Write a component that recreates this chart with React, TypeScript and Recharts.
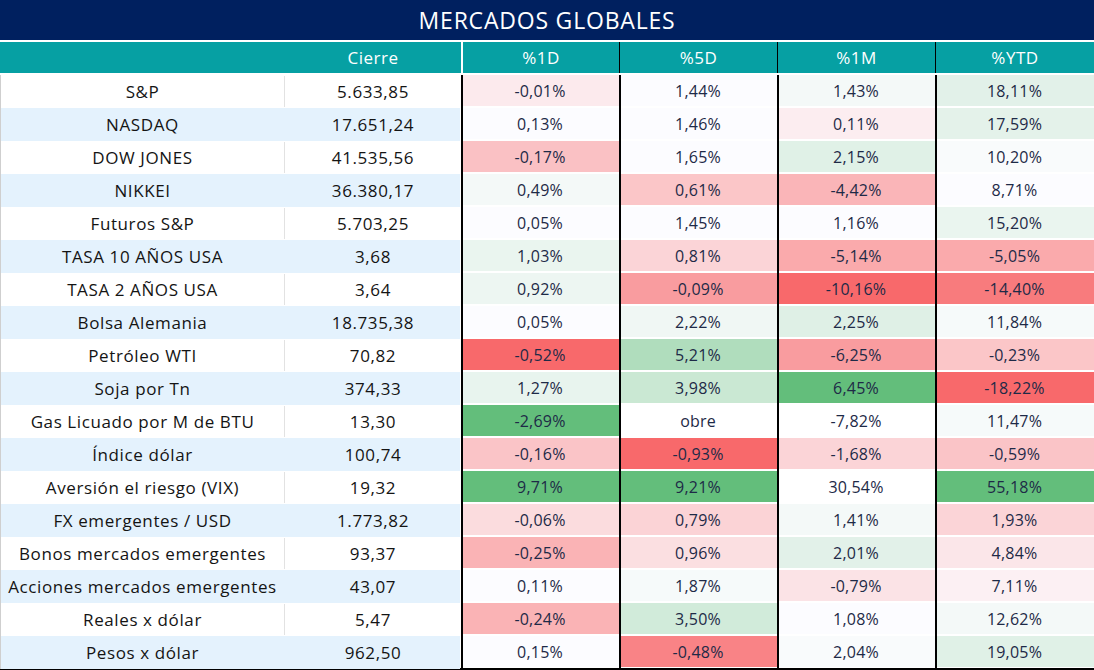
import { Bar, BarChart, XAxis, YAxis } from 'recharts'

const TITLE = 'MERCADOS GLOBALES'
const HEADERS = ['', 'Cierre', '%1D', '%5D', '%1M', '%YTD']

const NAMES = [
  'S&P', 'NASDAQ', 'DOW JONES', 'NIKKEI', 'Futuros S&P', 'TASA 10 AÑOS USA', 'TASA 2 AÑOS USA',
  'Bolsa Alemania', 'Petróleo WTI', 'Soja por Tn', 'Gas Licuado por M de BTU', 'Índice dólar',
  'Aversión el riesgo (VIX)', 'FX emergentes / USD', 'Bonos mercados emergentes',
  'Acciones mercados emergentes', 'Reales x dólar', 'Pesos x dólar',
]
const CIERRE = [5633.85, 17651.24, 41535.56, 36380.17, 5703.25, 3.68, 3.64, 18735.38, 70.82, 374.33, 13.3, 100.74, 19.32, 1773.82, 93.37, 43.07, 5.47, 962.5]

const PCT_1D = [-0.01, 0.13, -0.17, 0.49, 0.05, 1.03, 0.92, 0.05, -0.52, 1.27, -2.69, -0.16, 9.71, -0.06, -0.25, 0.11, -0.24, 0.15]
const PCT_5D: (number | string)[] = [1.44, 1.46, 1.65, 0.61, 1.45, 0.81, -0.09, 2.22, 5.21, 3.98, 'obre', -0.93, 9.21, 0.79, 0.96, 1.87, 3.5, -0.48]
const PCT_1M = [1.43, 0.11, 2.15, -4.42, 1.16, -5.14, -10.16, 2.25, -6.25, 6.45, -7.82, -1.68, 30.54, 1.41, 2.01, -0.79, 1.08, 2.04]
const PCT_YTD = [18.11, 17.59, 10.2, 8.71, 15.2, -5.05, -14.4, 11.84, -0.23, -18.22, 11.47, -0.59, 55.18, 1.93, 4.84, 7.11, 12.62, 19.05]

// escala de color tal como sale en la planilla (-1 rojo, 0 blanco, 1 verde, null sin formato)
const HEAT_1D = [-0.12, 0, -0.4, 0.05, 0, 0.12, 0.1, 0, -1, 0.13, 1, -0.38, 1, -0.22, -0.5, 0, -0.5, 0]
const HEAT_5D = [0, 0, 0, -0.37, 0, -0.27, -0.65, 0.08, 0.5, 0.33, null, -1, 1, -0.28, -0.2, 0.04, 0.28, -0.82]
const HEAT_1M = [0.05, -0.1, 0.18, -0.48, 0, -0.56, -1, 0.19, -0.65, 1, null, -0.27, null, 0.05, 0.17, -0.17, 0, 0.02]
const HEAT_YTD = [0.17, 0.16, 0.02, 0, 0.12, -0.56, -0.88, 0.04, -0.37, -1, 0.04, -0.38, 1, -0.27, -0.15, -0.08, 0.05, 0.18]

const PCT_COLS = [PCT_1D, PCT_5D, PCT_1M, PCT_YTD]
const HEAT_COLS = [HEAT_1D, HEAT_5D, HEAT_1M, HEAT_YTD]

const COL_W = [285, 176, 158, 158, 158, 159]
const TOTAL_W = COL_W.reduce((a, b) => a + b, 0)
const ROW_H = 33
const FONT = '"Open Sans", Lato, sans-serif'

const NAVY = '#00205f'
const TEAL = '#06a0a3'
const ROW_BLUE = '#e4f2fd'
const TXT = '#141414'
const TXT_PCT = '#1e2a47'

const RED = [248, 105, 107]
const MID = [252, 252, 255]
const GREEN = [99, 190, 123]

function heatColor(h: number | null) {
  if (h === null) return '#ffffff'
  const t = Math.min(1, Math.abs(h))
  const end = h < 0 ? RED : GREEN
  const c = MID.map((m, k) => Math.round(m + (end[k] - m) * t))
  return `rgb(${c[0]},${c[1]},${c[2]})`
}

function fmt(v: number) {
  const [int, dec] = Math.abs(v).toFixed(2).split('.')
  const grouped = int.replace(/\B(?=(\d{3})+(?!\d))/g, '.')
  return (v < 0 ? '-' : '') + grouped + ',' + dec
}

const rows = NAMES.map((name, i) => ({
  name,
  i,
  c0: COL_W[0], c1: COL_W[1], c2: COL_W[2], c3: COL_W[3], c4: COL_W[4], c5: COL_W[5],
}))

function cellShape(col: number) {
  return (props: any) => {
    const { x, y, width, height, payload } = props
    const i = payload.i as number
    const cx = x + width / 2
    const cy = y + height / 2
    if (col < 2) {
      const fill = i % 2 === 1 ? ROW_BLUE : '#ffffff'
      const label = col === 0 ? NAMES[i] : fmt(CIERRE[i])
      return (
        <g>
          <rect x={x} y={y} width={col === 1 ? width - 1 : width} height={height} fill={fill} />
          {col === 0 && i % 2 === 0 && (
            <line x1={x + width} x2={x + width} y1={y + 1} y2={y + height - 1} stroke="#d9d9d9" strokeWidth={1.5} />
          )}
          {col === 0 && <line x1={x + 0.5} x2={x + 0.5} y1={y} y2={y + height} stroke="#cfcfcf" strokeWidth={1} />}
          <text x={cx} y={cy} textAnchor="middle" dominantBaseline="central" fontSize={17}
            letterSpacing={0.6} fontFamily={FONT} fill={TXT}>{label}</text>
        </g>
      )
    }
    const p = col - 2
    const v = PCT_COLS[p][i]
    const label = typeof v === 'number' ? `${fmt(v)}%` : v
    return (
      <g>
        <rect x={x} y={y} width={width} height={height - 2} fill={heatColor(HEAT_COLS[p][i])} />
        <line x1={x + 1} x2={x + 1} y1={y} y2={y + height} stroke="#000" strokeWidth={2} />
        <text x={cx} y={cy - 1} textAnchor="middle" dominantBaseline="central" fontSize={16}
          letterSpacing={0.2} fontFamily={FONT} fill={TXT_PCT}>{label}</text>
      </g>
    )
  }
}

export default function App() {
  return (
    <div style={{ position: 'absolute', left: 0, top: 0, width: 1094, height: 670, background: '#fff', fontFamily: FONT }}>
      <div style={{ height: 40, background: NAVY, color: '#fff', fontSize: 23, lineHeight: '40px', textAlign: 'center', letterSpacing: 0.8 }}>
        {TITLE}
      </div>
      <div style={{ display: 'flex', marginTop: 2, height: 31, background: TEAL }}>
        {HEADERS.map((h, k) => (
          <div key={k} style={{
            width: COL_W[k],
            boxSizing: 'border-box',
            color: '#fff', fontSize: 17, lineHeight: '31px', textAlign: 'center', letterSpacing: 0.5,
            borderLeft: k === 2 ? '2px solid #fff' : k > 2 ? '1.5px solid #000' : 'none',
          }}>{h}</div>
        ))}
      </div>
      <div style={{ marginTop: 2 }}>
        <BarChart width={TOTAL_W} height={ROW_H * NAMES.length} data={rows} layout="vertical"
          margin={{ top: 0, right: 0, bottom: 0, left: 0 }} barCategoryGap={0}>
          <XAxis type="number" domain={[0, TOTAL_W]} hide />
          <YAxis type="category" dataKey="name" hide />
          {[0, 1, 2, 3, 4, 5].map((c) => (
            <Bar key={c} dataKey={`c${c}`} stackId="t" isAnimationActive={false} shape={cellShape(c)} />
          ))}
        </BarChart>
      </div>
      <div style={{ height: 2, background: '#000', marginTop: -1 }} />
    </div>
  )
}
